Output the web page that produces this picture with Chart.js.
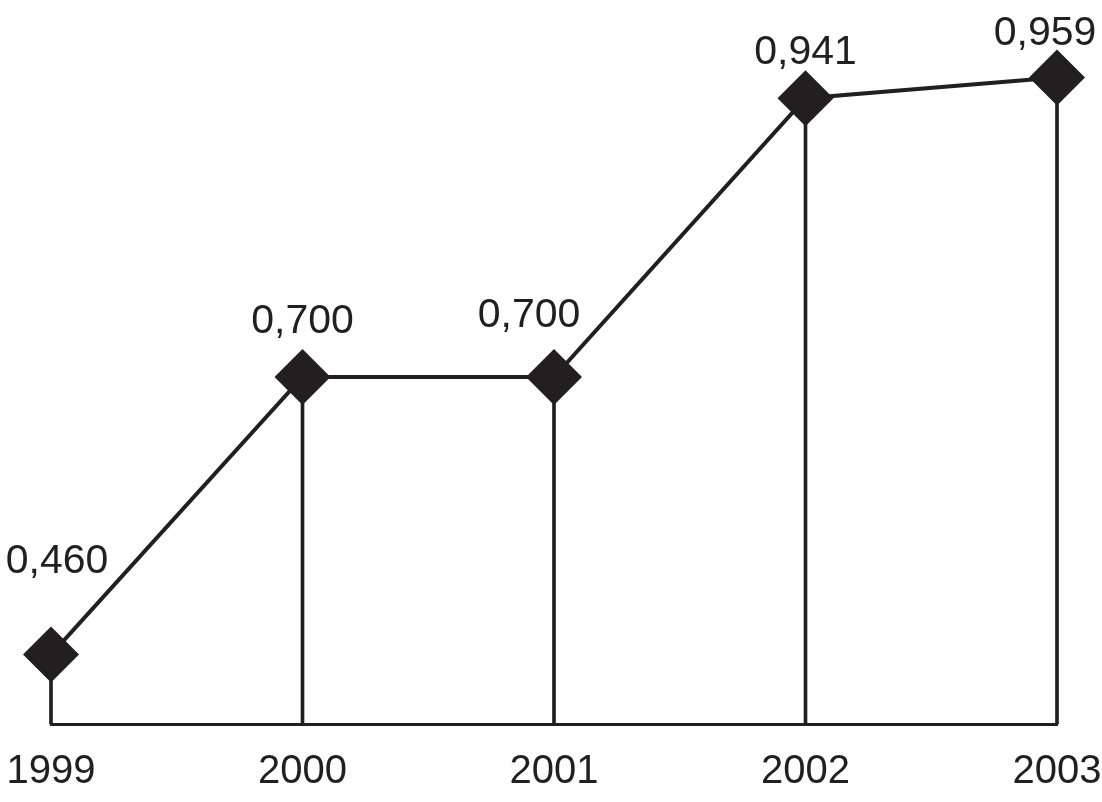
<!DOCTYPE html>
<html>
<head>
<meta charset="utf-8">
<script src="https://cdn.jsdelivr.net/npm/chart.js@4"></script>
<style>
  body { margin: 0; background: #fff; }
  #wrap { width: 1102px; height: 802px; }
</style>
</head>
<body>
<div id="wrap"><canvas id="myChart"></canvas></div>
<script>
const years = ["1999", "2000", "2001", "2002", "2003"];
const values = [0.46, 0.7, 0.7, 0.941, 0.959];
const valueLabels = ["0,460", "0,700", "0,700", "0,941", "0,959"];
const axisMin = 0.4;
const axisMax = 1.0;

const ink = "#231f20";
const font = "'Liberation Sans', Arial, sans-serif";

// text above each marker, nudged like in the original
const labelOffsets = [[6, 82], [0, 44], [-25, 50], [0, 34], [-12, 32]];

const pointLabels = {
  id: "pointLabels",
  afterDatasetsDraw(chart) {
    const meta = chart.getDatasetMeta(0);
    const ctx = chart.ctx;
    ctx.save();
    ctx.fillStyle = ink;
    ctx.font = "41px " + font;
    ctx.textAlign = "center";
    ctx.textBaseline = "alphabetic";
    meta.data.forEach((pt, i) => {
      const [dx, dy] = labelOffsets[i];
      ctx.fillText(valueLabels[i], pt.x + dx, pt.y - dy);
    });
    ctx.restore();
  },
};

new Chart(document.getElementById("myChart"), {
  data: {
    labels: years,
    datasets: [
      {
        type: "line",
        data: values,
        borderColor: ink,
        borderWidth: 4,
        pointStyle: "rectRot",
        pointRadius: 28,
        pointBackgroundColor: ink,
        pointBorderWidth: 0,
        tension: 0,
        clip: false,
        order: 1,
      },
      {
        // thin bars = drop lines from each point to the axis
        type: "bar",
        data: values,
        base: axisMin,
        backgroundColor: ink,
        barThickness: 3,
        clip: false,
        order: 2,
      },
    ],
  },
  options: {
    responsive: true,
    maintainAspectRatio: false,
    animation: false,
    layout: { padding: { top: 30, left: 51, right: 45, bottom: 0 } },
    plugins: { legend: { display: false }, tooltip: { enabled: false } },
    scales: {
      x: {
        offset: false,
        grid: { display: false, drawTicks: false },
        border: { display: true, color: ink, width: 3 },
        ticks: { color: ink, font: { family: font, size: 40 }, padding: 24, maxRotation: 0 },
        afterFit(scale) {
          scale.height = 78;
          scale.paddingLeft = 0;
          scale.paddingRight = 0;
        },
      },
      y: {
        display: false,
        min: axisMin,
        max: axisMax,
      },
    },
  },
  plugins: [pointLabels],
});
</script>
</body>
</html>
